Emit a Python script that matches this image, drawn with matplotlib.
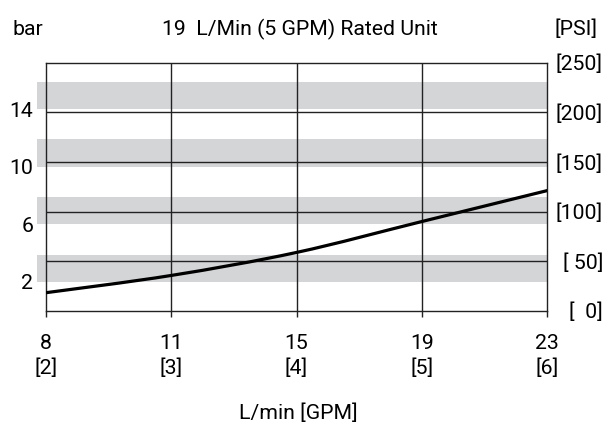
import numpy as np
import matplotlib
matplotlib.use("Agg")
import matplotlib.pyplot as plt
from matplotlib.path import Path
from matplotlib.patches import PathPatch

plt.rcParams['font.family'] = ['Liberation Sans Narrow', 'Roboto', 'DejaVu Sans']

# === data ===
flow_lpm = ["8", "11", "15", "19", "23"]
flow_gpm = ["[2]", "[3]", "[4]", "[5]", "[6]"]
pressure_bar = [1.25, 2.45, 4.05, 6.2, 8.35]      # curve, bar
bar_ticks = [2, 6, 10, 14]
psi_ticks = [0, 50, 100, 150, 200, 250]
psi_labels = ["[  0]", "[ 50]", "[100]", "[150]", "[200]", "[250]"]
band_bottoms = [2, 6, 10, 14]   # bar
band_height = 1.9               # bar

BAR_TO_PSI = 14.5038
FS = 15.3

fig = plt.figure(figsize=(6.08, 4.30), dpi=100)
ax = fig.add_axes([0.0752, 0.2774, 0.8250, 0.5768])

x = np.arange(len(flow_lpm))
y = np.array(pressure_bar) * BAR_TO_PSI

# grey bands
for b in band_bottoms:
    ax.axhspan(b * BAR_TO_PSI, (b + band_height) * BAR_TO_PSI, xmin=-0.018, xmax=1.0,
               color="#d4d5d7", lw=0, zorder=0, clip_on=False)

# grid
for p in psi_ticks[1:-1]:
    ax.axhline(p, color="#222222", lw=1.0, zorder=1)
for xi in x[1:-1]:
    ax.axvline(xi, color="#222222", lw=1.0, zorder=1)

# smooth curve through the points (catmull-rom -> bezier)
pts = np.column_stack([x, y]).astype(float)
ext = np.vstack([pts[0], pts, pts[-1]])
verts = [tuple(pts[0])]
codes = [Path.MOVETO]
for i in range(1, len(ext) - 2):
    p0, p1, p2, p3 = ext[i - 1], ext[i], ext[i + 1], ext[i + 2]
    c1 = p1 + (p2 - p0) / 6.0
    c2 = p2 - (p3 - p1) / 6.0
    verts += [tuple(c1), tuple(c2), tuple(p2)]
    codes += [Path.CURVE4] * 3
ax.add_patch(PathPatch(Path(verts, codes), fill=False, edgecolor="black", lw=2.3,
                       capstyle="butt", zorder=3))

ax.set_xlim(0, len(flow_lpm) - 1)
ax.set_ylim(psi_ticks[0], psi_ticks[-1])
for s in ax.spines.values():
    s.set_color("#222222")
    s.set_linewidth(1.0)

ax.set_xticks(x)
ax.set_xticklabels([f"{a}\n{b}" for a, b in zip(flow_lpm, flow_gpm)], fontsize=FS, linespacing=1.33)
ax.tick_params(axis="x", direction="out", length=4.5, width=1.0, color="#222222", pad=12.5)

ax.set_yticks([b * BAR_TO_PSI for b in bar_ticks])
ax.set_yticklabels([str(b) for b in bar_ticks], fontsize=FS)
ax.tick_params(axis="y", length=0, pad=9)

ax2 = ax.twinx()
ax2.set_ylim(ax.get_ylim())
ax2.set_yticks(psi_ticks)
ax2.set_yticklabels(psi_labels, fontsize=FS, ha="right")
ax2.tick_params(axis="y", length=0, pad=40)
for s in ax2.spines.values():
    s.set_visible(False)

fig.text(13 / 608, 1 - 35 / 430, "bar", fontsize=FS, ha="left", va="baseline")
fig.text(300 / 608, 1 - 35 / 430, "19  L/Min (5 GPM) Rated Unit", fontsize=FS, ha="center", va="baseline")
fig.text(598 / 608, 1 - 35 / 430, "[PSI]", fontsize=FS, ha="right", va="baseline")
fig.text(298 / 608, 1 - 419 / 430, "L/min [GPM]", fontsize=FS, ha="center", va="baseline")

fig.savefig("out.png", dpi=100)
